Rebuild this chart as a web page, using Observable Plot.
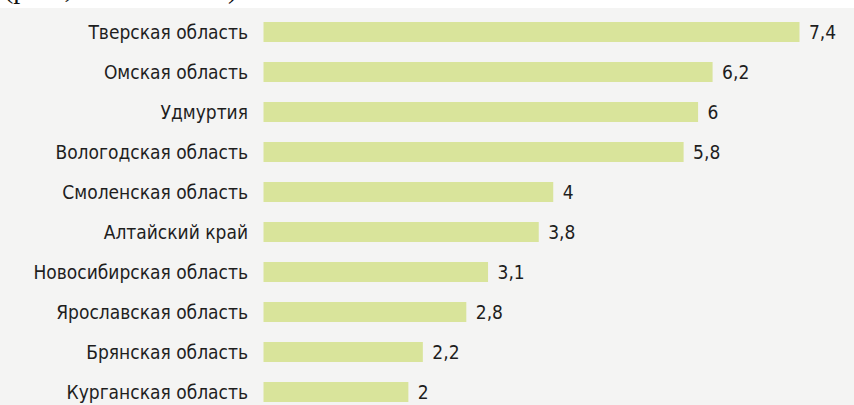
<!DOCTYPE html>
<html><head><meta charset="utf-8">
<script src="https://cdn.jsdelivr.net/npm/d3@7"></script>
<script src="https://cdn.jsdelivr.net/npm/@observablehq/plot@0.6"></script>
<style>
html,body{margin:0;padding:0;background:#fff;}
#top{height:8px;overflow:hidden;position:relative;width:854px;}
#top span{position:absolute;left:4px;top:-27px;font-family:"Liberation Serif","DejaVu Serif",serif;font-size:28px;line-height:32px;color:#111;white-space:nowrap;}
#chart{background:#f4f4f3;width:854px;height:397px;}
#chart svg{display:block;}
</style></head>
<body>
<div id="top"><span>(рост, в % к 2016 г.)</span></div>
<div id="chart"></div>
<script>
const regions = ["Тверская область","Омская область","Удмуртия","Вологодская область","Смоленская область","Алтайский край","Новосибирская область","Ярославская область","Брянская область","Курганская область"];
const values = [7.4, 6.2, 6, 5.8, 4, 3.8, 3.1, 2.8, 2.2, 2];
const data = regions.map((r, i) => ({region: r, value: values[i]}));
const fmt = v => String(v).replace(".", ",");
const font = '"Liberation Sans Narrow","DejaVu Sans Condensed","Arial Narrow",sans-serif';

const plot = Plot.plot({
  width: 854,
  height: 397,
  marginTop: 0, marginBottom: 0, marginLeft: 0, marginRight: 0,
  style: {background: "transparent", fontFamily: font, fontSize: "19px", color: "#222"},
  x: {domain: [0, 7.4], range: [263.5, 799.5], axis: null},
  y: {domain: regions, range: [8, 400], paddingInner: 0.5, paddingOuter: 0.1, axis: null},
  marks: [
    Plot.barX(data, {x: "value", y: "region", fill: "#d9e49b"}),
    Plot.text(data, {x: 0, y: "region", text: "region", textAnchor: "end", dx: -16, fill: "#1e1e1e", fontSize: 19}),
    Plot.text(data, {x: "value", y: "region", text: d => fmt(d.value), textAnchor: "start", dx: 9, fill: "#1e1e1e", fontSize: 19})
  ]
});
document.getElementById("chart").appendChild(plot);
</script>
</body></html>
